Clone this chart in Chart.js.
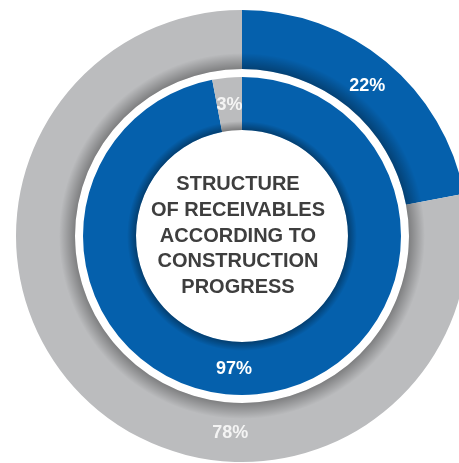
<!DOCTYPE html>
<html>
<head>
<meta charset="utf-8">
<script src="https://cdn.jsdelivr.net/npm/chart.js@4"></script>
<style>
    html, body { margin: 0; padding: 0; background: #fff; overflow: hidden; }
    #wrap { position: relative; width: 459px; height: 463px; overflow: hidden; }
    #chart { position: absolute; left: 2px; top: -4px; }
</style>
</head>
<body>
<div id="wrap"><canvas id="chart" width="480" height="480"></canvas></div>
<script>
// outer ring: share of receivables, inner ring: construction progress
const outerLabels = ['Part A', 'Part B'];
const outerValues = [22, 78];
const innerLabels = ['Part A', 'Part B'];
const innerValues = [97, 3];
const titleLines = ['STRUCTURE', 'OF RECEIVABLES', 'ACCORDING TO', 'CONSTRUCTION', 'PROGRESS'];

const BLUE = '#0560ac';
const GREY = '#bbbcbe';

// soft shadows along the ring edges
const shadowPlugin = {
    id: 'ringShadow',
    afterDatasetsDraw(chart) {
        const ctx = chart.ctx;
        const shade = (arc, r0, r1, alpha) => {
            const g = ctx.createRadialGradient(arc.x, arc.y, r0, arc.x, arc.y, r1);
            g.addColorStop(0, 'rgba(0,0,0,' + alpha + ')');
            g.addColorStop(1, 'rgba(0,0,0,0)');
            ctx.save();
            ctx.beginPath();
            ctx.arc(arc.x, arc.y, r1, 0, Math.PI * 2);
            ctx.arc(arc.x, arc.y, r0, 0, Math.PI * 2, true);
            ctx.fillStyle = g;
            ctx.fill('evenodd');
            ctx.restore();
        };
        const outer = chart.getDatasetMeta(0).data[0];
        const inner = chart.getDatasetMeta(2).data[0];
        shade(outer, outer.innerRadius, outer.innerRadius + 16, 0.32);
        shade(inner, inner.innerRadius, inner.innerRadius + 9, 0.35);
    }
};

const labelPlugin = {
    id: 'ringLabels',
    afterDatasetsDraw(chart) {
        const ctx = chart.ctx;
        ctx.save();
        ctx.font = 'bold 18px "Liberation Sans", Arial, sans-serif';
        ctx.textAlign = 'center';
        ctx.textBaseline = 'middle';
        [0, 2].forEach(di => {
            const ds = chart.data.datasets[di];
            chart.getDatasetMeta(di).data.forEach((arc, i) => {
                const v = ds.data[i];
                const a = v > 50 ? Math.PI / 2 + 0.06 : (arc.startAngle + arc.endAngle) / 2;
                const r = (arc.innerRadius + arc.outerRadius) / 2;
                ctx.fillStyle = ds.backgroundColor[i] === GREY ? '#f4f4f4' : '#ffffff';
                ctx.fillText(v + '%', arc.x + Math.cos(a) * r, arc.y + Math.sin(a) * r + 1);
            });
        });
        // centre title
        const c = chart.getDatasetMeta(0).data[0];
        ctx.fillStyle = '#3e3e3e';
        ctx.font = 'bold 20px "Liberation Sans", Arial, sans-serif';
        const lh = 25.7;
        titleLines.forEach((t, i) => {
            ctx.fillText(t, c.x - 4, c.y + (i - (titleLines.length - 1) / 2) * lh);
        });
        ctx.restore();
    }
};

new Chart(document.getElementById('chart').getContext('2d'), {
    type: 'doughnut',
    data: {
        labels: outerLabels,
        datasets: [
            { data: outerValues, backgroundColor: [BLUE, GREY], borderWidth: 0, weight: 59 },
            { data: [1], backgroundColor: ['rgba(0,0,0,0)'], borderWidth: 0, weight: 8 },
            { data: innerValues, backgroundColor: [BLUE, GREY], borderWidth: 0, weight: 53, labels: innerLabels }
        ]
    },
    options: {
        responsive: false,
        devicePixelRatio: 1,
        cutout: '46.9%',
        animation: false,
        layout: { padding: 14 },
        plugins: {
            legend: { display: false },
            tooltip: { enabled: false }
        }
    },
    plugins: [shadowPlugin, labelPlugin]
});
</script>
</body>
</html>
